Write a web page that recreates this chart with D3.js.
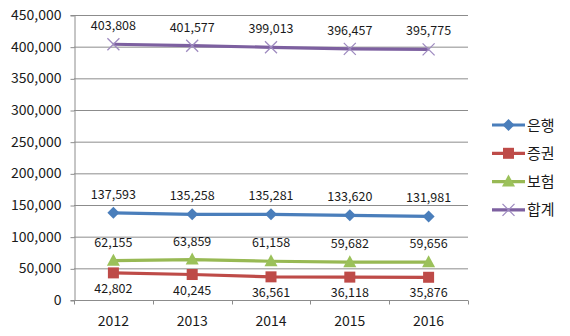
<!DOCTYPE html>
<html>
<head>
<meta charset="utf-8">
<script src="https://cdn.jsdelivr.net/npm/d3@7"></script>
<style>
  html, body { margin: 0; padding: 0; background: #fff; }
  svg text { font-family: "Noto Sans CJK KR", "Noto Sans", sans-serif; fill: #1a1a1a; }
</style>
</head>
<body>
<svg id="chart" width="570" height="336"></svg>
<script>
const years = ["2012", "2013", "2014", "2015", "2016"];
const bank = [137593, 135258, 135281, 133620, 131981];
const securities = [42802, 40245, 36561, 36118, 35876];
const insurance = [62155, 63859, 61158, 59682, 59656];
const total = [403808, 401577, 399013, 396457, 395775];
const yTicks = [0, 50000, 100000, 150000, 200000, 250000, 300000, 350000, 400000, 450000];

const series = [
  { name: "은행", values: bank, color: "#4A7EBB", marker: "diamond", labelPos: "above" },
  { name: "증권", values: securities, color: "#BE4B48", marker: "square", labelPos: "below" },
  { name: "보험", values: insurance, color: "#98B954", marker: "triangle", labelPos: "above" },
  { name: "합계", values: total, color: "#7D60A0", marker: "cross", labelPos: "above" }
];

const svg = d3.select("#chart");
const plot = { left: 74, right: 468, top: 15, bottom: 300 };

const x = d3.scaleBand().domain(years).range([plot.left, plot.right]);
const y = d3.scaleLinear().domain([0, 450000]).range([plot.bottom, plot.top]);
const fmt = d3.format(",");

// horizontal gridlines
svg.append("g")
  .selectAll("line")
  .data(yTicks.slice(1))
  .join("line")
  .attr("x1", plot.left).attr("x2", plot.right)
  .attr("y1", d => y(d) + 0.5).attr("y2", d => y(d) + 0.5)
  .attr("stroke", "#8c8c8c").attr("stroke-width", 1);

// y axis
const yAxis = svg.append("g")
  .attr("transform", `translate(${plot.left + 0.5},0)`)
  .call(d3.axisLeft(y).tickValues(yTicks).tickFormat(fmt).tickSize(4).tickPadding(9));
yAxis.select(".domain").attr("stroke", "#8c8c8c");
yAxis.selectAll(".tick line").attr("stroke", "#8c8c8c").attr("transform", "translate(0,0.5)");
yAxis.selectAll("text").style("font-size", "14px").attr("fill", "#1a1a1a");

// x axis with tick marks at band edges
const xAxis = svg.append("g")
  .attr("transform", `translate(0,${plot.bottom + 0.5})`);
xAxis.append("line")
  .attr("x1", plot.left).attr("x2", plot.right)
  .attr("stroke", "#8c8c8c");
const edges = years.map(d => x(d)).concat([x(years[years.length - 1]) + x.bandwidth()]);
xAxis.selectAll("line.edge")
  .data(edges)
  .join("line").attr("class", "edge")
  .attr("x1", d => Math.round(d) + 0.5).attr("x2", d => Math.round(d) + 0.5)
  .attr("y1", 0).attr("y2", 4)
  .attr("stroke", "#8c8c8c");
xAxis.selectAll("text")
  .data(years)
  .join("text")
  .attr("x", d => x(d) + x.bandwidth() / 2)
  .attr("y", 25)
  .attr("text-anchor", "middle")
  .style("font-size", "14px")
  .text(d => d);

function drawMarker(g, type, color) {
  if (type === "diamond") {
    g.append("path").attr("d", "M0,-6L6,0L0,6L-6,0Z").attr("fill", color);
  } else if (type === "square") {
    g.append("rect").attr("x", -5.5).attr("y", -5.5).attr("width", 11).attr("height", 11).attr("fill", color);
  } else if (type === "triangle") {
    g.append("path").attr("d", "M0,-7L6.5,5L-6.5,5Z").attr("fill", color);
  } else if (type === "cross") {
    g.append("path").attr("d", "M-6,-6L6,6M-6,6L6,-6")
      .attr("stroke", color).attr("stroke-width", 1.3).attr("fill", "none");
  }
}

const line = d3.line()
  .x((d, i) => x(years[i]) + x.bandwidth() / 2)
  .y(d => y(d));

series.forEach(s => {
  svg.append("path")
    .datum(s.values)
    .attr("d", line)
    .attr("fill", "none")
    .attr("stroke", s.color)
    .attr("stroke-width", 3.2)
    .attr("stroke-linejoin", "round");
  const markerColor = s.marker === "cross" ? "#9F8BC0" : (s.marker === "triangle" ? "#9BC15A" : s.color);
  s.values.forEach((v, i) => {
    const g = svg.append("g")
      .attr("transform", `translate(${x(years[i]) + x.bandwidth() / 2},${y(v)})`);
    drawMarker(g, s.marker, markerColor);
  });
  svg.append("g")
    .selectAll("text")
    .data(s.values)
    .join("text")
    .attr("x", (d, i) => x(years[i]) + x.bandwidth() / 2)
    .attr("y", d => y(d) + (s.labelPos === "above" ? -14 : 20))
    .attr("text-anchor", "middle")
    .style("font-size", "12.5px")
    .text(d => fmt(d));
});

// legend
const legend = svg.append("g");
series.forEach((s, i) => {
  const ly = 125 + i * 28.3;
  const g = legend.append("g").attr("transform", `translate(0,${ly})`);
  g.append("line").attr("x1", 492).attr("x2", 525).attr("y1", 0).attr("y2", 0)
    .attr("stroke", s.color).attr("stroke-width", 3.2);
  const m = g.append("g").attr("transform", "translate(508.5,0)");
  const markerColor = s.marker === "cross" ? "#9F8BC0" : (s.marker === "triangle" ? "#9BC15A" : s.color);
  drawMarker(m, s.marker, markerColor);
  g.append("text").attr("x", 527).attr("y", 5.5)
    .style("font-size", "15px")
    .text(s.name);
});
</script>
</body>
</html>
